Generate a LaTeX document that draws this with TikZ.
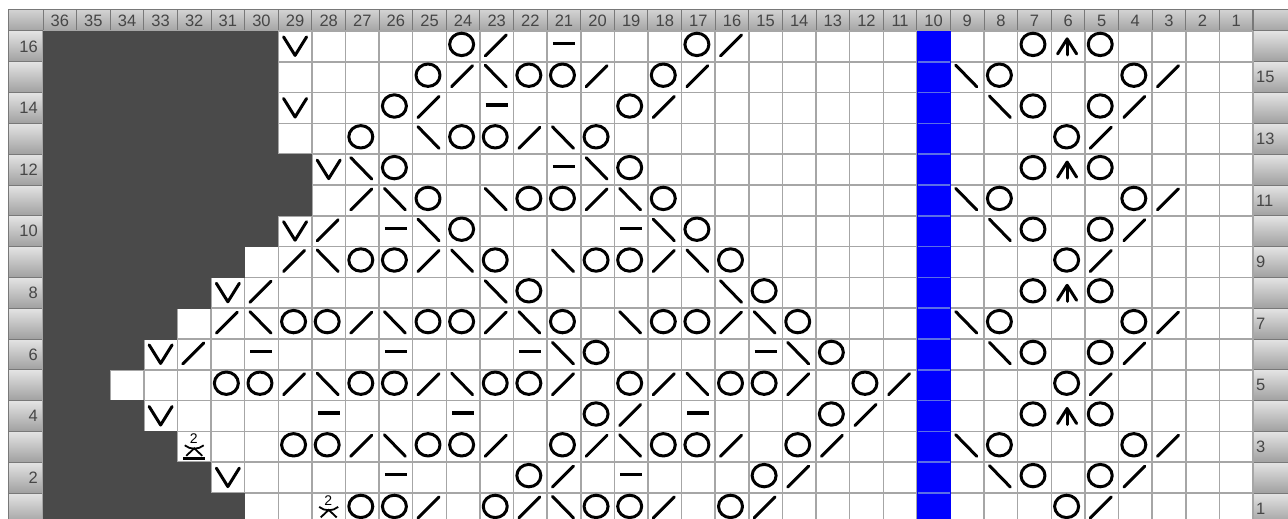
\documentclass[tikz,border=0pt]{standalone}
\usepackage{fontspec}
\setmainfont{Liberation Sans}
\definecolor{darkc}{HTML}{4A4A4A}
\definecolor{gridc}{HTML}{A6A6A6}
\definecolor{bluec}{HTML}{0000FF}
\definecolor{bluegrid}{HTML}{5A6EE6}
\definecolor{hdrtop}{HTML}{D2D2D2}
\definecolor{hdrbot}{HTML}{A4A4A4}
\definecolor{lbltop}{HTML}{E4E4E4}
\definecolor{lblbot}{HTML}{A0A0A0}
\definecolor{hdrline}{HTML}{787878}
\definecolor{numc}{HTML}{464646}
\tikzset{
  sym/.style={line width=3pt, line cap=round, line join=round, black},
  gridline/.style={gridc, line width=1.5pt},
  hdrcell/.style={top color=hdrtop, bottom color=hdrbot, draw=hdrline, line width=1pt},
  lblcell/.style={top color=lbltop, bottom color=lblbot, draw=hdrline, line width=1pt},
  numtext/.style={font=\fontsize{16.5}{16.5}\selectfont, text=numc, inner sep=0pt},
}
\newcommand{\At}[3]{\begin{scope}[shift={({43+(36.5-#1)*33.61},{31+(16.5-#2)*30.8})}]#3\end{scope}}
\newcommand{\symO}{\draw[sym] (-1.5,-2) ellipse [x radius=12, y radius=11.2];}
\newcommand{\symR}{\draw[sym] (-11.5,9.5) -- (9.5,-11.5);}
\newcommand{\symL}{\draw[sym] (-11.5,-12) -- (9.5,9.5);}
\newcommand{\symP}{\draw[sym, line cap=butt, line width=3.2pt] (-11,-3) -- (11,-3);}
\newcommand{\symV}{\draw[sym] (-11.5,-9.5) -- (0,9) -- (11.5,-9.5);}
\newcommand{\symA}{\draw[sym] (-1,8.5) -- (-1,-6); \draw[sym] (-10.5,7.5) -- (-1,-7.5) -- (8.5,7.5);}
\newcommand{\symT}{\node[font=\fontsize{14}{14}\selectfont, inner sep=0pt] at (-0.5,-8) {2};
  \draw[line width=1.8pt] (-9.5,-1.5) .. controls (-4,3) and (4,3) .. (9.5,-1.5);
  \draw[line width=1.8pt] (-8,9) -- (0,1.5) -- (8,9);
  \draw[line width=2.8pt] (-11,12) -- (11,12);}
\begin{document}
\begin{tikzpicture}[x=1pt,y=-1pt]
\useasboundingbox (0,0) rectangle (1288,519);
\clip (0,0) rectangle (1288,519);
\fill[white] (0,0) rectangle (1288,519);
% header
\foreach \k in {0,...,35}{
  \pgfmathtruncatemacro\n{36-\k}
  \shadedraw[hdrcell] ({43+\k*33.61},10) rectangle ({43+(\k+1)*33.61},31);
  \node[numtext] at ({43+(\k+0.5)*33.61},20.5) {\n};
}
\shadedraw[hdrcell] (8,10) rectangle (43,31);
\shadedraw[hdrcell] (1253,10) rectangle (1300,31);
% row label columns
\foreach \r in {1,...,16}{
  \shadedraw[lblcell] (8,{31+(16-\r)*30.8}) rectangle (43,{31+(17-\r)*30.8});
  \shadedraw[lblcell] (1253,{31+(16-\r)*30.8}) rectangle (1300,{31+(17-\r)*30.8});
}
\foreach \r in {2,4,...,16}{
  \node[numtext, anchor=east] at (38,{31+(16.5-\r)*30.8}) {\r};
}
\foreach \r in {1,3,...,15}{
  \node[numtext, anchor=west] at (1256,{31+(16.5-\r)*30.8}) {\r};
}
% grid
\foreach \k in {0,...,36}{
  \draw[gridline] ({43+\k*33.61},31) -- ({43+\k*33.61},524);
}
\foreach \k in {0,...,16}{
  \draw[gridline] (43,{31+\k*30.8}) -- (1253,{31+\k*30.8});
}
% blue column (stitch 10)
\fill[bluec] (916.9,31) rectangle (950.5,524);
\foreach \k in {1,...,16}{
  \draw[bluegrid, line width=1.5pt] (917.5,{31+\k*30.8}) -- (950,{31+\k*30.8});
}
% no-stitch area
\foreach \r/\f in {16/29,15/29,14/29,13/29,12/28,11/28,10/29,9/30,8/31,7/32,6/33,5/34,4/33,3/32,2/31,1/30}{
  \fill[darkc] (42.5,{max(31,31+(16-\r)*30.8-0.5)}) rectangle ({43+(36-\f)*33.61},{31+(17-\r)*30.8+0.5});
}
% symbols
\foreach \c/\t in {29/V,24/O,23/R,21/P,17/O,16/R,7/O,6/A,5/O}{\At{\c}{16}{\csname sym\t\endcsname}}
\foreach \c/\t in {25/O,24/R,23/L,22/O,21/O,20/R,18/O,17/R,9/L,8/O,4/O,3/R}{\At{\c}{15}{\csname sym\t\endcsname}}
\foreach \c/\t in {29/V,26/O,25/R,23/P,19/O,18/R,8/L,7/O,5/O,4/R}{\At{\c}{14}{\csname sym\t\endcsname}}
\foreach \c/\t in {27/O,25/L,24/O,23/O,22/R,21/L,20/O,6/O,5/R}{\At{\c}{13}{\csname sym\t\endcsname}}
\foreach \c/\t in {28/V,27/L,26/O,21/P,20/L,19/O,7/O,6/A,5/O}{\At{\c}{12}{\csname sym\t\endcsname}}
\foreach \c/\t in {27/R,26/L,25/O,23/L,22/O,21/O,20/R,19/L,18/O,9/L,8/O,4/O,3/R}{\At{\c}{11}{\csname sym\t\endcsname}}
\foreach \c/\t in {29/V,28/R,26/P,25/L,24/O,19/P,18/L,17/O,8/L,7/O,5/O,4/R}{\At{\c}{10}{\csname sym\t\endcsname}}
\foreach \c/\t in {29/R,28/L,27/O,26/O,25/R,24/L,23/O,21/L,20/O,19/O,18/R,17/L,16/O,6/O,5/R}{\At{\c}{9}{\csname sym\t\endcsname}}
\foreach \c/\t in {31/V,30/R,23/L,22/O,16/L,15/O,7/O,6/A,5/O}{\At{\c}{8}{\csname sym\t\endcsname}}
\foreach \c/\t in {31/R,30/L,29/O,28/O,27/R,26/L,25/O,24/O,23/R,22/L,21/O,19/L,18/O,17/O,16/R,15/L,14/O,9/L,8/O,4/O,3/R}{\At{\c}{7}{\csname sym\t\endcsname}}
\foreach \c/\t in {33/V,32/R,30/P,26/P,22/P,21/L,20/O,15/P,14/L,13/O,8/L,7/O,5/O,4/R}{\At{\c}{6}{\csname sym\t\endcsname}}
\foreach \c/\t in {31/O,30/O,29/R,28/L,27/O,26/O,25/R,24/L,23/O,22/O,21/R,19/O,18/R,17/L,16/O,15/O,14/R,12/O,11/R,6/O,5/R}{\At{\c}{5}{\csname sym\t\endcsname}}
\foreach \c/\t in {33/V,28/P,24/P,20/O,19/R,17/P,13/O,12/R,7/O,6/A,5/O}{\At{\c}{4}{\csname sym\t\endcsname}}
\foreach \c/\t in {32/T,29/O,28/O,27/R,26/L,25/O,24/O,23/R,21/O,20/R,19/L,18/O,17/O,16/R,14/O,13/R,9/L,8/O,4/O,3/R}{\At{\c}{3}{\csname sym\t\endcsname}}
\foreach \c/\t in {31/V,26/P,22/O,21/R,19/P,15/O,14/R,8/L,7/O,5/O,4/R}{\At{\c}{2}{\csname sym\t\endcsname}}
\foreach \c/\t in {28/T,27/O,26/O,25/R,23/O,22/R,21/L,20/O,19/O,18/R,16/O,15/R,6/O,5/R}{\At{\c}{1}{\csname sym\t\endcsname}}
\end{tikzpicture}
\end{document}
